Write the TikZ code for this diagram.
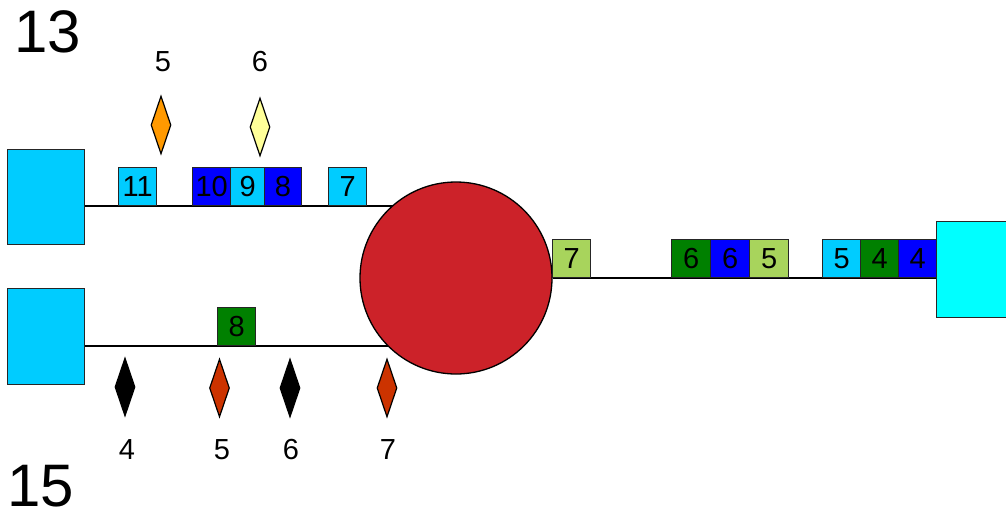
\documentclass[tikz,border=0pt]{standalone}
\usepackage{fontspec}
\setmainfont{Liberation Sans}
\usetikzlibrary{shapes.geometric}
\definecolor{skyc}{HTML}{00CCFF}
\definecolor{aquac}{HTML}{00FFFF}
\definecolor{redc}{HTML}{CC2229}
\definecolor{bluec}{HTML}{0000FF}
\definecolor{greenc}{HTML}{008000}
\definecolor{limec}{HTML}{A8D45C}
\definecolor{orangec}{HTML}{FF9900}
\definecolor{yellowc}{HTML}{FFFF99}
\definecolor{rustc}{HTML}{CC3300}
\tikzset{
  big/.style={font=\fontsize{60}{60}\selectfont, inner sep=0},
  lbl/.style={font=\fontsize{29}{29}\selectfont, inner sep=0},
  slot/.style={draw=black!85, line width=1.3pt, minimum width=38pt, minimum height=38pt, inner sep=0, font=\fontsize{29}{29}\selectfont, anchor=south west},
  endbox/.style={draw=black!85, line width=1.3pt, fill=skyc, inner sep=0, anchor=north west},
  gem/.style={diamond, draw=black, line width=1.2pt, inner sep=0, minimum width=20pt, minimum height=58pt},
  wire/.style={draw=black, line width=1.5pt}
}
\begin{document}
\begin{tikzpicture}[x=1pt,y=-1pt]
\useasboundingbox (0,0) rectangle (1006,520);
% labels
\node[big] (n13) at (48,32) {13};
\node[big] (n15) at (41,486) {15};
% end boxes and circle
\node[endbox, minimum width=77pt, minimum height=95pt] (L1) at (7,149) {};
\node[endbox, minimum width=77pt, minimum height=96pt] (L2) at (7,288) {};
\node[endbox, fill=aquac, minimum width=75pt, minimum height=96pt] (R) at (936,221) {};
\coordinate (t1) at (393,206);
\coordinate (t2) at (391,346);
% wires
\draw[wire] (L1.east |- t1) -- (t1);
\draw[wire] (L2.east |- t2) -- (t2);
\node[circle, draw=black, line width=1.3pt, fill=redc, minimum size=192pt, inner sep=0] (C) at (456,278) {};
\draw[wire] (C.east) -- (R.west |- C.east);
% top slots
\node[slot, fill=skyc] (s11) at (118,206) {11};
\node[slot, fill=bluec] (s10) at (192,206) {10};
\node[slot, fill=skyc, minimum width=34pt] (s9) at (230,206) {9};
\node[slot, fill=bluec, minimum width=36.5pt] (s8) at (264,206) {8};
\node[slot, fill=skyc] (s7) at (328,206) {7};
% bottom slot
\node[slot, fill=greenc] (b8) at (217,346) {8};
% right slots
\node[slot, fill=limec] (r7) at (552,278) {7};
\node[slot, fill=greenc, minimum width=39pt] (r6a) at (671,278) {6};
\node[slot, fill=bluec, minimum width=39pt] (r6b) at (710,278) {6};
\node[slot, fill=limec, minimum width=39pt] (r5a) at (749,278) {5};
\node[slot, fill=skyc] (r5b) at (822,278) {5};
\node[slot, fill=greenc] (r4a) at (860,278) {4};
\node[slot, fill=bluec] (r4b) at (898,278) {4};
% top diamonds
\node[gem, fill=orangec] (d5) at (161,125) {};
\node[gem, fill=yellowc] (d6) at (260,127) {};
\node[lbl] (l5) at (163,62) {5};
\node[lbl] (l6) at (260,62) {6};
% bottom diamonds
\node[gem, fill=black] (e4) at (125,387) {};
\node[gem, fill=rustc] (e5) at (219.5,388) {};
\node[gem, fill=black] (e6) at (290,388) {};
\node[gem, fill=rustc] (e7) at (387,388) {};
\node[lbl] (m4) at (127,450) {4};
\node[lbl] (m5) at (222,450) {5};
\node[lbl] (m6) at (291,450) {6};
\node[lbl] (m7) at (388,450) {7};
\end{tikzpicture}
\end{document}
